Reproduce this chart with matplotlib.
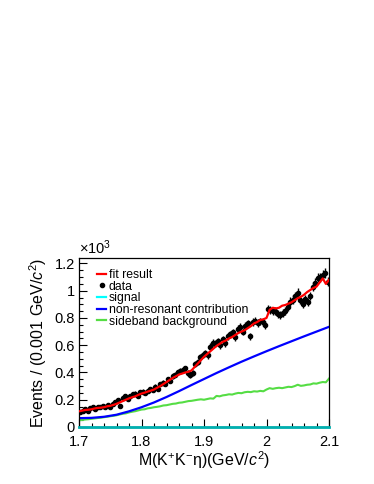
import numpy as np
import matplotlib
matplotlib.use("Agg")
import matplotlib.pyplot as plt
from matplotlib.lines import Line2D
from matplotlib.ticker import MultipleLocator, FuncFormatter

plt.rcParams['font.family'] = ['Liberation Sans', 'DejaVu Sans']
plt.rcParams['mathtext.fontset'] = 'custom'
plt.rcParams['mathtext.rm'] = 'Liberation Sans'
plt.rcParams['mathtext.it'] = 'Liberation Sans:italic'

# ---- data (values in units of 10^3 events) ----
data_x = [1.702 + 0.004 * i for i in range(100)]
data_y = [0.11, 0.115, 0.135, 0.12, 0.14, 0.145, 0.13, 0.15, 0.15, 0.155,
          0.145, 0.165, 0.15, 0.17, 0.18, 0.195, 0.152, 0.215, 0.225, 0.205,
          0.23, 0.24, 0.245, 0.23, 0.255, 0.26, 0.25, 0.265, 0.28, 0.27,
          0.295, 0.28, 0.315, 0.325, 0.315, 0.35, 0.34, 0.375, 0.385, 0.40,
          0.41, 0.42, 0.43, 0.395, 0.38, 0.395, 0.46, 0.48, 0.51, 0.53,
          0.545, 0.525, 0.59, 0.62, 0.61, 0.63, 0.60, 0.645, 0.615, 0.665,
          0.68, 0.695, 0.66, 0.72, 0.735, 0.70, 0.74, 0.76, 0.665, 0.77,
          0.78, 0.765, 0.775, 0.77, 0.75, 0.865, 0.86, 0.85, 0.85, 0.83,
          0.82, 0.835, 0.85, 0.88, 0.92, 0.935, 0.96, 0.985, 0.93, 0.90,
          0.94, 0.915, 0.96, 1.03, 1.06, 1.095, 1.10, 1.115, 1.13, 1.065]

curve_x = [1.700 + 0.005 * i for i in range(81)]
fit_y = [0.115, 0.12, 0.125, 0.127, 0.13, 0.136, 0.14, 0.142, 0.145, 0.152,
         0.155, 0.162, 0.17, 0.18, 0.19, 0.2, 0.21, 0.218, 0.225, 0.236,
         0.245, 0.252, 0.26, 0.267, 0.275, 0.288, 0.30, 0.315, 0.33, 0.345,
         0.36, 0.372, 0.385, 0.392, 0.40, 0.405, 0.415, 0.44, 0.465, 0.49,
         0.515, 0.535, 0.555, 0.575, 0.595, 0.61, 0.625, 0.635, 0.65, 0.66,
         0.675, 0.69, 0.70, 0.71, 0.725, 0.74, 0.76, 0.77, 0.785, 0.79,
         0.80, 0.86, 0.875, 0.87, 0.875, 0.89, 0.895, 0.905, 0.915, 0.93,
         0.945, 0.955, 0.97, 0.99, 1.005, 1.02, 1.03, 1.06, 1.09, 1.05, 1.08]
sideband_y = [0.05, 0.052, 0.055, 0.057, 0.06, 0.063, 0.066, 0.068, 0.072, 0.075,
              0.079, 0.082, 0.086, 0.092, 0.097, 0.1, 0.107, 0.112, 0.116, 0.122,
              0.128, 0.13, 0.137, 0.14, 0.145, 0.148, 0.152, 0.158, 0.16, 0.165,
              0.17, 0.172, 0.178, 0.18, 0.185, 0.19, 0.192, 0.196, 0.2, 0.203,
              0.2, 0.205, 0.21, 0.208, 0.228, 0.225, 0.232, 0.235, 0.24, 0.238,
              0.245, 0.25, 0.248, 0.255, 0.258, 0.256, 0.262, 0.26, 0.265, 0.262,
              0.275, 0.285, 0.28, 0.285, 0.288, 0.285, 0.29, 0.295, 0.293, 0.3,
              0.31, 0.302, 0.305, 0.31, 0.312, 0.32, 0.318, 0.325, 0.33, 0.328, 0.355]

nonres_x = [1.70 + 0.02 * i for i in range(21)]
nonres_y = [0.065, 0.067, 0.075, 0.09, 0.115, 0.145, 0.18, 0.22, 0.263, 0.308,
            0.352, 0.396, 0.438, 0.479, 0.518, 0.556, 0.593, 0.629, 0.665, 0.70, 0.735]

signal_x = [1.70, 2.10]
signal_y = [0.0, 0.0]

xticks = [1.7, 1.8, 1.9, 2.0, 2.1]
yticks = [0, 0.2, 0.4, 0.6, 0.8, 1.0, 1.2]

# ---- figure ----
fig = plt.figure(figsize=(3.74, 4.84), dpi=100)
ax = fig.add_axes([79 / 374, 1 - 427 / 484, 250 / 374, 169 / 484])

c_red = '#ff0000'
c_blue = '#0000ff'
c_green = '#55dd44'
c_cyan = '#00ffff'

d_y = np.array(data_y)
d_err = np.sqrt(d_y * 1000.0) / 1000.0
ax.errorbar(data_x, d_y, yerr=d_err, xerr=0.002, fmt='o', color='black',
            markersize=3.0, elinewidth=1.0, capsize=0, zorder=3)
ax.plot(curve_x, sideband_y, color=c_green, lw=1.5, zorder=2)
ax.plot(nonres_x, nonres_y, color=c_blue, lw=1.6, zorder=2)
ax.plot(curve_x, fit_y, color=c_red, lw=1.6, zorder=4)
ax.plot(signal_x, signal_y, color='#00b0b0', lw=2.0, zorder=5, clip_on=False)

ax.set_xlim(1.7, 2.1)
ax.set_ylim(0, 1.24)
ax.set_xticks(xticks)
ax.set_yticks(yticks)
ax.xaxis.set_minor_locator(MultipleLocator(0.02))
ax.yaxis.set_minor_locator(MultipleLocator(0.05))

def fmt(v, pos):
    s = f"{v:.1f}"
    if s.endswith('.0'):
        s = s[:-2]
    return s
ax.xaxis.set_major_formatter(FuncFormatter(fmt))
ax.yaxis.set_major_formatter(FuncFormatter(fmt))

ax.tick_params(which='both', direction='in', top=False, right=False,
               labelsize=10.5, width=0.8)
ax.tick_params(axis='x', pad=5.5)
ax.tick_params(axis='y', pad=3)
ax.tick_params(which='major', length=6)
ax.tick_params(which='minor', length=3)
for s in ax.spines.values():
    s.set_linewidth(0.9)

ax.set_xlabel("M(K$^{+}$K$^{-}$η)(GeV/$c^{2}$)", fontsize=11.5, labelpad=0.5)
ax.set_ylabel("Events / (0.001 GeV/$c^{2}$)", fontsize=11.5, labelpad=4)
ax.text(0.0, 1.005, r"$\times$10$^{3}$", transform=ax.transAxes,
        ha='left', va='bottom', fontsize=10.5)

handles = [
    Line2D([], [], color=c_red, lw=1.6),
    Line2D([], [], color='black', marker='o', markersize=3.0, lw=0),
    Line2D([], [], color=c_cyan, lw=1.6),
    Line2D([], [], color=c_blue, lw=1.6),
    Line2D([], [], color=c_green, lw=1.6),
]
labels = ['fit result', 'data', 'signal', 'non-resonant contribution',
          'sideband background']
ax.legend(handles, labels, loc='upper left', bbox_to_anchor=(0.072, 0.935),
          frameon=False, fontsize=8.8, handlelength=0.75, handletextpad=0.2,
          labelspacing=-0.03, borderaxespad=0, borderpad=0)

fig.savefig('out.png', dpi=100)
